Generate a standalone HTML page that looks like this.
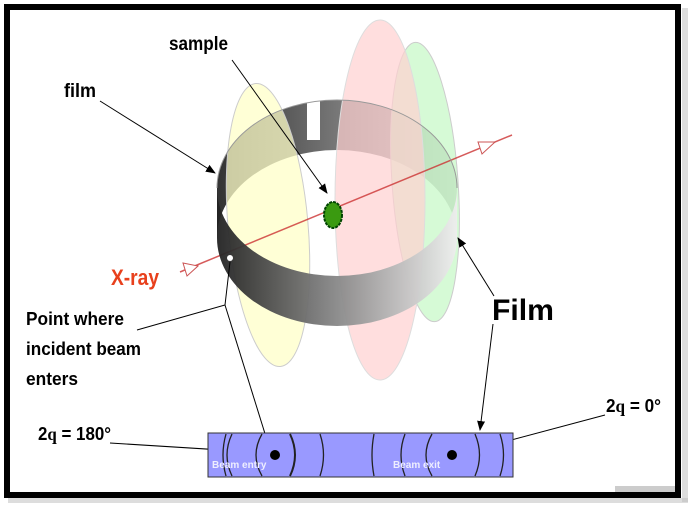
<!DOCTYPE html>
<html><head><style>body{margin:0;background:#fff}svg{display:block}text{font-family:"Liberation Sans",sans-serif;font-weight:bold}</style></head><body>
<svg width="692" height="512" viewBox="0 0 692 512">
<defs>
<linearGradient id="band" x1="0" x2="1"><stop offset="0" stop-color="#222"/><stop offset="0.5" stop-color="#888"/><stop offset="1" stop-color="#eee"/></linearGradient>
<linearGradient id="bandb" x1="0" x2="1"><stop offset="0" stop-color="#333"/><stop offset="1" stop-color="#bbb"/></linearGradient>
<marker id="ah" markerWidth="10" markerHeight="10" refX="9" refY="5" orient="auto" markerUnits="userSpaceOnUse"><path d="M0,1 L10,5 L0,9z" fill="#000"/></marker>
</defs>
<rect x="682" y="8" width="6" height="494" fill="#bbb" opacity="0.5"/>
<rect x="8" y="498" width="680" height="5" fill="#bbb" opacity="0.5"/>
<rect x="7" y="7" width="671" height="488" fill="#fff" stroke="#000" stroke-width="6"/>
<path d="M217,188 A120,88 0 0 1 457,188 L457,238 A120,88 0 0 0 217,238z" fill="url(#bandb)"/>
<rect x="307" y="95" width="13" height="45" fill="#fff"/>
<ellipse cx="268" cy="225" rx="40" ry="142" fill="#ffffc8" fill-opacity="0.75" stroke="#ccc" transform="rotate(-5 268 225)"/>
<ellipse cx="425" cy="182" rx="33" ry="140" fill="#c8f8c8" fill-opacity="0.75" stroke="#ccc" transform="rotate(-4 425 182)"/>
<ellipse cx="380" cy="200" rx="45" ry="180" fill="#ffd0d0" fill-opacity="0.7" stroke="#ddd"/>
<line x1="180" y1="272" x2="512" y2="135" stroke="#c33" stroke-width="1.5" opacity="0.8"/>
<path d="M183,263 L198,266 L187,276z" fill="#fff" stroke="#c55"/>
<path d="M478,142 L495,142 L482,154z" fill="#fff" stroke="#c55"/>
<path d="M217,188 A120,88 0 0 0 457,188 L457,238 A120,88 0 0 1 217,238z" fill="url(#band)" opacity="0.95"/>
<path d="M217,188 A120,88 0 0 1 457,188" fill="none" stroke="#999"/>
<circle cx="230" cy="258" r="3" fill="#fff"/>
<ellipse cx="333" cy="215" rx="9" ry="13" fill="#3a9a10" stroke="#040" stroke-width="2" stroke-dasharray="3 1"/>
<g>
<text x="169" y="50" font-size="19" textLength="59" lengthAdjust="spacingAndGlyphs">sample</text>
<text x="64" y="97" font-size="19" textLength="32" lengthAdjust="spacingAndGlyphs">film</text>
<text x="111" y="285" font-size="22" fill="#e8401c" textLength="48" lengthAdjust="spacingAndGlyphs">X-ray</text>
<text x="26" y="325" font-size="18" textLength="98" lengthAdjust="spacingAndGlyphs">Point where</text>
<text x="26" y="355" font-size="18" textLength="115" lengthAdjust="spacingAndGlyphs">incident beam</text>
<text x="26" y="385" font-size="18" textLength="52" lengthAdjust="spacingAndGlyphs">enters</text>
<text x="492" y="320" font-size="30" textLength="62" lengthAdjust="spacingAndGlyphs">Film</text>
<text x="38" y="440" font-size="18" textLength="73" lengthAdjust="spacingAndGlyphs">2<tspan font-family="Liberation Serif">q</tspan> = 180°</text>
<text x="606" y="412" font-size="18" textLength="55" lengthAdjust="spacingAndGlyphs">2<tspan font-family="Liberation Serif">q</tspan> = 0°</text>
</g>
<g stroke="#000" stroke-width="1" fill="none">
<line x1="232" y1="60" x2="327" y2="193" marker-end="url(#ah)"/>
<line x1="100" y1="101" x2="215" y2="173" marker-end="url(#ah)"/>
<line x1="494" y1="296" x2="458" y2="238" marker-end="url(#ah)"/>
<line x1="493" y1="324" x2="480" y2="430" marker-end="url(#ah)"/>
<polyline points="137,330 225,305 230,262"/>
<line x1="225" y1="305" x2="271" y2="453"/>
<line x1="110" y1="443" x2="270" y2="453"/>
<line x1="605" y1="415" x2="455" y2="455"/>
</g>
<rect x="208" y="433" width="305" height="44" fill="#9999ff" stroke="#333"/>
<g stroke="#222" stroke-width="1.3" fill="none">
<path d="M226,434 Q220,455 226,476"/><path d="M232,434 Q222,455 232,476"/>
<path d="M262,434 Q250,455 262,476"/><path d="M290,434 Q300,455 290,476" stroke-width="2"/>
<path d="M320,434 Q327,455 320,476"/><path d="M374,434 Q370,455 374,476"/>
<path d="M405,434 Q397,455 405,476"/><path d="M432,434 Q420,455 432,476"/>
<path d="M475,434 Q484,455 475,476"/><path d="M500,434 Q507,455 500,476"/>
</g>
<circle cx="275" cy="455" r="5" fill="#000"/>
<circle cx="452" cy="455" r="5" fill="#000"/>
<text x="212" y="468" font-size="10" fill="#eef" font-weight="normal">Beam entry</text>
<text x="393" y="468" font-size="10" fill="#eef" font-weight="normal">Beam exit</text>
<rect x="615" y="486" width="60" height="6" fill="#ccc"/>
</svg>
</body></html>
